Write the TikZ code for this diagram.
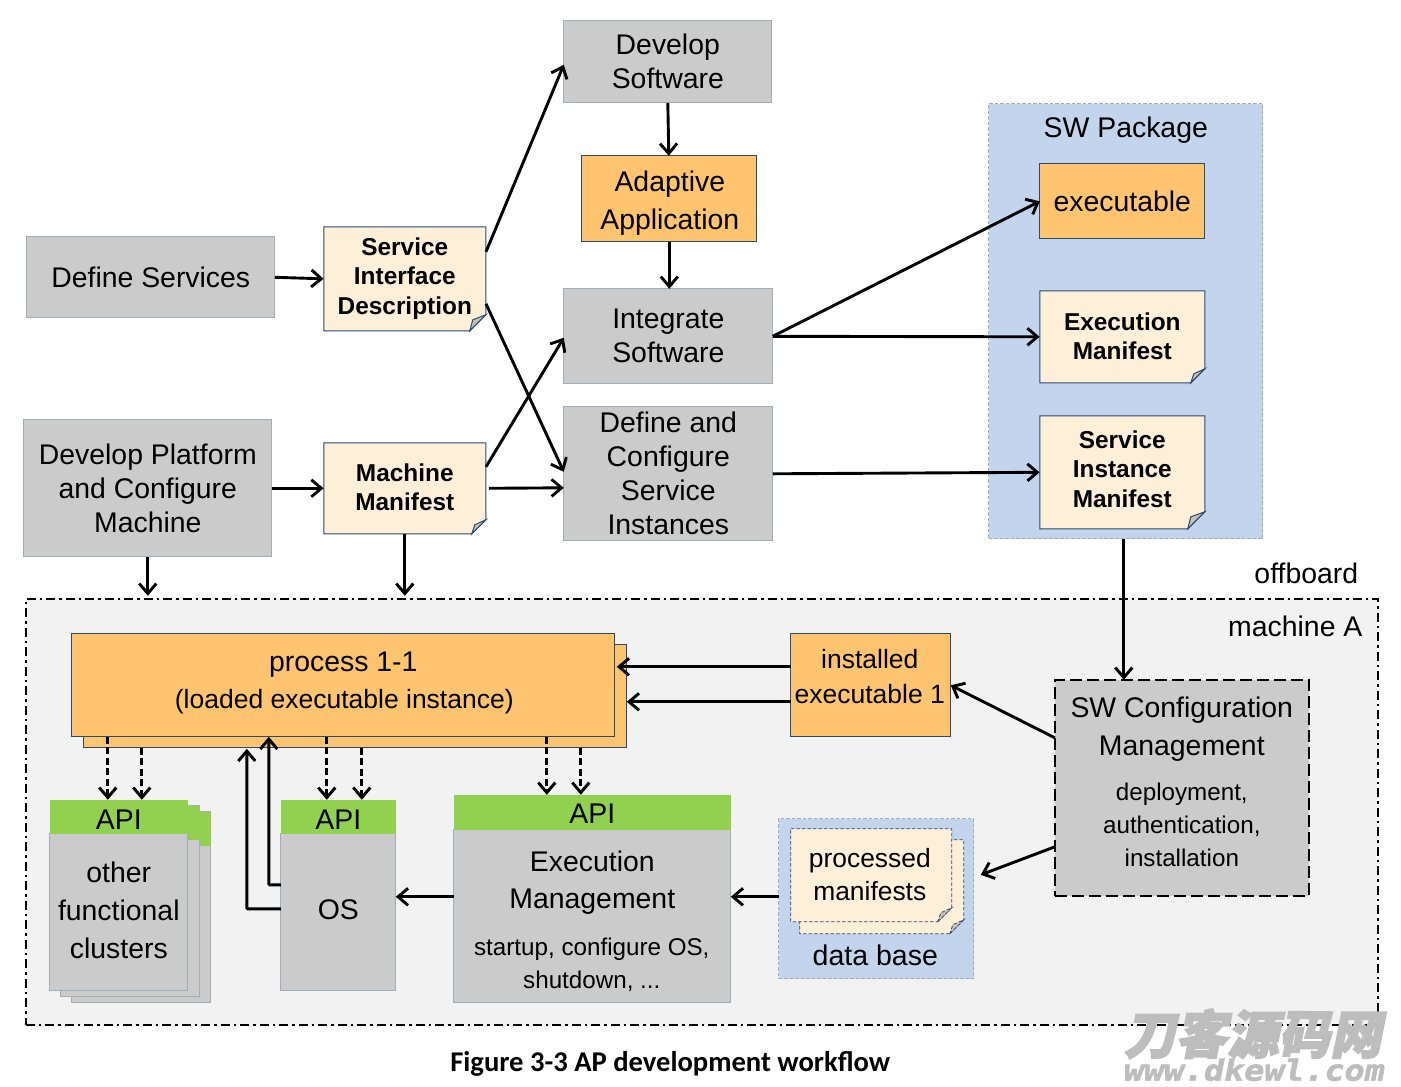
\documentclass[tikz,border=0pt]{standalone}
\usepackage{fontspec}
\setmainfont{Liberation Sans}
\newfontfamily\capfont{Carlito}
\newfontfamily\wmcjk[FakeBold=3]{Noto Sans CJK SC}
\newfontfamily\wmmono[FakeStretch=1.15,FakeBold=2]{DejaVu Sans Mono}
\usetikzlibrary{arrows.meta,calc}
\definecolor{cgrey}{HTML}{CBCBCB}
\definecolor{corange}{HTML}{FEC46F}
\definecolor{ccream}{HTML}{FEEFD9}
\definecolor{cblue}{HTML}{C3D5EC}
\definecolor{cgreen}{HTML}{92D050}
\definecolor{cnavy}{HTML}{2A4A72}
\definecolor{cedge}{HTML}{A3ADB8}
\definecolor{cpane}{HTML}{F2F2F2}
\definecolor{cfold}{HTML}{C9C2B2}
\definecolor{cwm}{HTML}{BDBDBD}
\newcommand\fa{\fontsize{28.4}{34}\selectfont}
\newcommand\fc{\fontsize{24.2}{32.7}\selectfont}
% name, left, top, right, bottom, fold, line style, text shift, text
\newcommand\notebox[9]{%
  \pgfmathsetmacro\nbcx{(#2+#4)/2}\pgfmathsetmacro\nbcy{(#3+#5)/2}%
  \pgfmathsetmacro\nbty{(#3+#5)/2+#8}%
  \pgfmathsetmacro\nbw{#4-#2}\pgfmathsetmacro\nbh{#5-#3}%
  \pgfmathsetmacro\nbfx{#4-#6}\pgfmathsetmacro\nbfy{#5-#6}%
  \pgfmathsetmacro\nbcxa{#4-#6+3}\pgfmathsetmacro\nbcya{#5-#6+5}%
  \draw[#7,fill=ccream] (#2,#3)--(#4,#3)--(#4,\nbfy)--(\nbfx,#5)--(#2,#5)--cycle;
  \draw[#7,fill=cfold] (\nbfx,#5)--(#4,\nbfy)--(\nbcxa,\nbcya)--cycle;
  \node[inner sep=0pt,minimum width=\nbw pt,minimum height=\nbh pt] (#1) at (\nbcx,\nbcy) {};
  \node[inner sep=0pt,align=center,font=\bfseries\fontsize{24.4}{29.5}\selectfont] (#1t) at (\nbcx,\nbty) {#9};
}
\tikzset{
  x=1pt,y=-1pt,
  >={Straight Barb[length=10pt,width=17pt,line width=2.9pt]},
  flat/.style={inner sep=0pt,outer sep=0pt,align=center},
  greybox/.style={flat,fill=cgrey,draw=cedge,line width=.9pt,font=\fa},
  orangebox/.style={flat,fill=corange,draw=cnavy,line width=1pt,font=\fa},
  apibox/.style={flat,fill=cgreen,font=\fa},
  lbl/.style={flat,font=\fa},
  sublbl/.style={flat,font=\fc},
  link/.style={->,line width=2.9pt,black},
  apilink/.style={->,line width=2.9pt,black,dash pattern=on 7pt off 3.5pt},
  solidnote/.style={draw=cnavy,line width=1pt},
  dashnote/.style={draw=cnavy,line width=.8pt,dash pattern=on 3.5pt off 2pt},
}
\begin{document}
\begin{tikzpicture}
\useasboundingbox (.2,.2) rectangle (1401.2,1087.2);
\fill[white] (.2,.2) rectangle (1401.2,1087.2);

% machine pane and software package
\node[flat,fill=cpane,draw=black,line width=2pt,dash pattern=on 9pt off 4pt on 2.5pt off 4pt,minimum width=1352pt,minimum height=426pt] (machine) at (702,812) {};
\node[flat,fill=cblue,draw=cedge,line width=.9pt,dash pattern=on 3.5pt off 2pt,minimum width=274pt,minimum height=435pt] (swpkg) at (1126,321.5) {};
\node[lbl] (swpkglbl) at (1126,130.5) {SW Package};
\node[lbl] (offboard) at (1306.5,573.5) {offboard};
\node[lbl] (machlbl) at (1295.5,626.5) {machine A};

% top row
\node[greybox,minimum width=208pt,minimum height=82pt] (devsw) at (668,62) {Develop\\Software};
\node[orangebox,minimum width=175pt,minimum height=86pt] (adapt) at (669.5,199) {};
\node[lbl,font=\fontsize{28.4}{38}\selectfont] (adaptt) at (670,203.5) {Adaptive\\Application};
\node[greybox,minimum width=209pt,minimum height=95pt] (intsw) at (668.5,336.5) {Integrate\\Software};
\node[greybox,minimum width=209pt,minimum height=134pt] (defcfg) at (668.5,474) {Define and\\Configure\\Service\\Instances};
\node[greybox,minimum width=248pt,minimum height=81pt] (dsv) at (151,277.5) {Define Services};
\node[greybox,minimum width=248pt,minimum height=137pt] (dpm) at (148,488.5) {Develop Platform\\and Configure\\Machine};
\notebox{sid}{324}{227}{486}{331}{16}{solidnote}{-.5}{Service\\Interface\\Description}
\notebox{mm}{324}{443}{486}{534}{14}{solidnote}{-1}{Machine\\Manifest}

% package contents
\node[orangebox,minimum width=165pt,minimum height=75pt] (exe) at (1122.5,201.5) {executable};
\notebox{em}{1040}{291}{1205}{383}{14}{solidnote}{-.5}{Execution\\Manifest}
\notebox{sim}{1040}{416}{1205}{529}{17}{solidnote}{-3.5}{Service\\Instance\\Manifest}

% process
\node[orangebox,minimum width=543pt,minimum height=103pt] (procb) at (355.5,696.5) {};
\node[orangebox,minimum width=543pt,minimum height=103pt] (proc) at (343.5,685.5) {};
\node[lbl] (proct) at (343.5,665) {process 1-1};
\node[lbl,font=\fontsize{26.5}{32}\selectfont] (procs) at (344.5,701.5) {(loaded executable instance)};
\node[orangebox,minimum width=160pt,minimum height=103pt] (inst) at (871,685.5) {};
\node[lbl,font=\fontsize{26.5}{35}\selectfont] (instl) at (870,677) {installed\\executable 1};

% SW configuration management
\node[greybox,draw=black,line width=2pt,dash pattern=on 12pt off 5pt,minimum width=254pt,minimum height=216pt] (swcm) at (1182,788) {};
\node[lbl,font=\fontsize{28.4}{38}\selectfont] (swcmt) at (1182,729.5) {SW Configuration\\Management};
\node[sublbl] (swcms) at (1182,825) {deployment,\\authentication,\\installation};

% other functional clusters
\node[greybox,minimum width=139pt,minimum height=191pt] (fc3) at (141.5,907.5) {};
\node[apibox,minimum width=139pt,minimum height=34pt] (fa3) at (141.5,829) {};
\node[greybox,minimum width=139pt,minimum height=191pt] (fc2) at (130.5,901.5) {};
\node[apibox,minimum width=139pt,minimum height=34pt] (fa2) at (130.5,823) {};
\node[greybox,minimum width=138pt,minimum height=157pt] (fc1) at (119,912.5) {};
\node[lbl,font=\fontsize{28.4}{38.2}\selectfont] (fc1t) at (119,910.5) {other\\functional\\clusters};
\node[apibox,minimum width=138pt,minimum height=34pt] (fa1) at (119,817) {};
\node[lbl] (fa1t) at (119,819.5) {API};

% OS
\node[greybox,minimum width=115pt,minimum height=157pt] (osb) at (338.5,912.5) {};
\node[lbl] (ost) at (338.5,910) {OS};
\node[apibox,minimum width=115pt,minimum height=34pt] (osa) at (338.5,817) {};
\node[lbl] (osat) at (338.5,819.5) {API};

% execution management
\node[greybox,minimum width=277pt,minimum height=173pt] (emb) at (592.5,916.5) {};
\node[apibox,minimum width=277pt,minimum height=35pt] (ema) at (592.5,812.5) {};
\node[lbl] (emat) at (592.5,814) {API};
\node[lbl,font=\fontsize{28.4}{37}\selectfont] (emt) at (592.5,883) {Execution\\Management};
\node[sublbl] (ems) at (592,965) {startup, configure OS,\\shutdown, ...};

% data base
\node[flat,fill=cblue,draw=cedge,line width=.9pt,dash pattern=on 3.5pt off 2pt,minimum width=195pt,minimum height=160pt] (db) at (876.5,899) {};
\notebox{pmb}{800}{840}{964}{934}{14}{dashnote}{0}{}
\notebox{pmf}{791}{829}{952}{922}{14}{dashnote}{0}{}
\node[lbl,font=\fontsize{26.4}{33}\selectfont] (pmt) at (870,874.5) {processed\\manifests};
\node[lbl,font=\fontsize{28.5}{33}\selectfont] (dbl) at (875.5,955.5) {data base};

% upper connectors
\draw[link] (dsv.east) -- (sid.west);
\draw[link] ([yshift=27pt]sid.east) -- ([yshift=-3pt]devsw.west);
\draw[link] (devsw.south) -- ([xshift=-.5pt]adapt.north);
\draw[link] (adapt.south) -- (adapt.south |- intsw.north);
\draw[link] ([yshift=-25pt]sid.east) -- ([yshift=2pt]defcfg.west);
\draw[link] ([yshift=21.5pt]mm.east) -- ([yshift=-1.5pt]intsw.west);
\draw[link] ([xshift=3pt]mm.east) -- ([yshift=-14pt]defcfg.west);
\draw[link] (dpm.east) -- (mm.west);
\draw[link] (intsw.east) -- (exe.west);
\draw[link] (intsw.east) -- (em.west);
\draw[link] (defcfg.east) -- (sim.west);
\draw[link] (dpm.south) -- ([yshift=3pt]dpm.south |- machine.north);
\draw[link] (mm.south) -- ([yshift=3pt]mm.south |- machine.north);
\draw[link] ([xshift=-2pt]swpkg.south) -- ([xshift=-2pt]swpkg.south |- swcm.north);

% machine connectors
\draw[link] ([yshift=18.5pt]inst.west) -- ([yshift=18.5pt,xshift=2pt]inst.west -| proc.east);
\draw[link] ([yshift=-16.5pt]inst.west) -- ([yshift=-16.5pt]inst.west -| procb.east);
\draw[link] ([yshift=50pt]swcm.west) -- (inst.east);
\draw[link] ([yshift=-59pt]swcm.west) -- ([xshift=7pt,yshift=24pt]db.east);
\draw[link] ([yshift=2pt]db.west) -- ([yshift=2pt]db.west -| emb.east);
\draw[link] ([yshift=19.5pt]emb.west) -- ([yshift=19.5pt]emb.west -| osb.east);
\draw[link,rounded corners=1pt] ([yshift=27.5pt]osb.west) -| ([xshift=-74.5pt]proc.south);
\draw[link,rounded corners=1pt] ([yshift=3.5pt]osb.west) -| ([xshift=-108.5pt,yshift=-1pt]procb.south);
\draw[apilink] ([xshift=-235.5pt]proc.south) -- ([xshift=-235.5pt]proc.south |- fa1.north);
\draw[apilink] ([xshift=-213.5pt]procb.south) -- ([xshift=-213.5pt]procb.south |- fa1.north);
\draw[apilink] ([xshift=-16.5pt]proc.south) -- ([xshift=-16.5pt]proc.south |- osa.north);
\draw[apilink] ([xshift=6.5pt]procb.south) -- ([xshift=6.5pt]procb.south |- osa.north);
\draw[apilink] ([xshift=203.5pt]proc.south) -- ([xshift=203.5pt]proc.south |- ema.north);
\draw[apilink] ([xshift=225.5pt]procb.south) -- ([xshift=225.5pt]procb.south |- ema.north);

% caption and watermark
\node[flat,font=\capfont\bfseries\fontsize{28.6}{32}\selectfont] (cap) at (670.5,1064) {Figure 3-3 AP development workflow};
\node[flat,text=cwm,xslant=.2,font=\wmcjk\bfseries\fontsize{51.5}{54}\selectfont] (wm) at (1257,1034) {刀客源码网};
\node[flat,text=cwm,xslant=.2,font=\wmmono\bfseries\fontsize{29}{32}\selectfont] (wmu) at (1255,1070) {www.dkewl.com};
\end{tikzpicture}
\end{document}
